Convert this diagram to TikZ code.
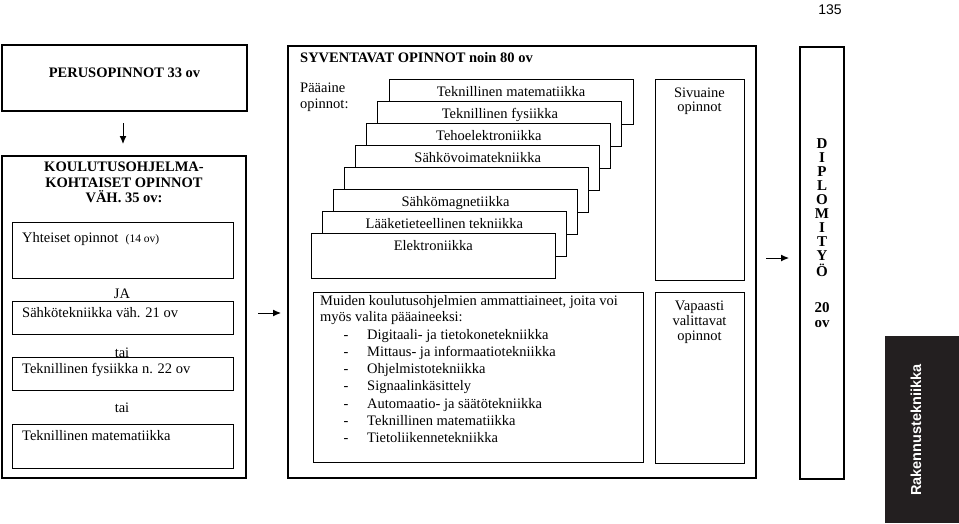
\documentclass[tikz,border=0pt]{standalone}
\usepackage{fontspec}
\setmainfont{Liberation Serif}
\setsansfont{Liberation Sans}
\usetikzlibrary{arrows.meta,calc}
\begin{document}
\begin{tikzpicture}[x=1pt,y=-1pt,
  box/.style={draw=black, line width=1pt, fill=white, anchor=north west, inner sep=0pt, outer sep=0pt},
  bigbox/.style={box, line width=1.2pt},
  txt/.style={font=\fontsize{14.5}{15}\selectfont, inner sep=0pt},
  btxt/.style={font=\fontsize{14.5}{15.5}\bfseries\selectfont, inner sep=0pt, align=center},
  dtxt/.style={font=\fontsize{15}{15}\bfseries\selectfont, inner sep=0pt, anchor=base},
  arr/.style={line width=1pt, -{Latex[length=8pt,width=7pt]}}]
\useasboundingbox (0,0) rectangle (959,523);

% page number
\node[font=\fontsize{14}{14}\sffamily\selectfont, inner sep=0pt, anchor=base] (page) at (830,14) {135};

% ---------------- left column ----------------
\node[bigbox, minimum width=245pt, minimum height=66pt] (perus) at (2,45) {};
\node[btxt, anchor=base] (perust) at (124.5,77) {PERUSOPINNOT 33 ov};

\node[bigbox, minimum width=244pt, minimum height=322pt] (koul) at (2,156) {};
\node[btxt, anchor=base] (koult1) at (124,171) {KOULUTUSOHJELMA-};
\node[btxt, anchor=base] (koult2) at (124,187) {KOHTAISET OPINNOT};
\node[btxt, anchor=base] (koult3) at (124,202) {VÄH. 35 ov:};

\node[box, minimum width=221pt, minimum height=56pt] (yht) at (12,222) {};
\node[txt, anchor=base west] (yhtt) at (22,242) {Yhteiset opinnot\ \ {\fontsize{11.5}{12}\selectfont(14 ov)}};

\node[txt, anchor=base] (ja) at (122,298) {JA};
\node[box, minimum width=221pt, minimum height=33pt] (sahko) at (12,301) {};
\node[txt, anchor=base west] (sahkot) at (22,317) {Sähkötekniikka väh. 21 ov};

\node[txt, anchor=base] (tai1) at (122,357) {tai};
\node[box, minimum width=221pt, minimum height=33pt] (fys) at (12,357) {};
\node[txt, anchor=base west] (fyst) at (22,373) {Teknillinen fysiikka n. 22 ov};

\node[txt, anchor=base] (tai2) at (122,412) {tai};
\node[box, minimum width=221pt, minimum height=44pt] (mat) at (12,424) {};
\node[txt, anchor=base west] (matt) at (22,440) {Teknillinen matematiikka};

% ---------------- middle ----------------
\node[bigbox, minimum width=468pt, minimum height=432pt] (syv) at (288,46) {};
\node[btxt, anchor=base west] (syvt) at (300,62) {SYVENTAVAT OPINNOT noin 80 ov};
\node[txt, anchor=base west] (paa1) at (300,92) {Pääaine};
\node[txt, anchor=base west] (paa2) at (300,108) {opinnot:};

\foreach \i/\t in {1/Teknillinen matematiikka, 2/Teknillinen fysiikka, 3/Tehoelektroniikka, 4/Sähkövoimatekniikka, 5/{}, 6/Sähkömagnetiikka, 7/Lääketieteellinen tekniikka, 8/Elektroniikka} {
  \node[box, minimum width=244pt, minimum height=45pt] (s\i) at ({389-11.1*(\i-1)}, {79+22.14*(\i-1)}) {};
  \node[txt, anchor=base] (st\i) at ($(s\i.north)+(0,17)$) {\t};
}

\node[box, minimum width=89pt, minimum height=201pt] (siv) at (655,79) {};
\node[txt, anchor=base] (sivt1) at (699.5,97) {Sivuaine};
\node[txt, anchor=base] (sivt2) at (699.5,111) {opinnot};

\node[box, minimum width=330pt, minimum height=170pt] (muid) at (313,292) {};
\node[txt, anchor=base west] (muidt1) at (320,305) {Muiden koulutusohjelmien ammattiaineet, joita voi};
\node[txt, anchor=base west] (muidt2) at (320,321) {myös valita pääaineeksi:};
\foreach \i/\t in {0/Digitaali- ja tietokonetekniikka, 1/Mittaus- ja informaatiotekniikka, 2/Ohjelmistotekniikka, 3/Signaalinkäsittely, 4/Automaatio- ja säätötekniikka, 5/Teknillinen matematiikka, 6/Tietoliikennetekniikka} {
  \node[txt, anchor=base] (md\i) at ({346}, {339+17.33*\i}) {-};
  \node[txt, anchor=base west] (ml\i) at ({367}, {339+17.33*\i}) {\t};
}

\node[box, minimum width=89pt, minimum height=171pt] (vap) at (655,292) {};
\node[txt, anchor=base] (vapt1) at (699.5,310) {Vapaasti};
\node[txt, anchor=base] (vapt2) at (699.5,325) {valittavat};
\node[txt, anchor=base] (vapt3) at (699.5,340) {opinnot};

% ---------------- right ----------------
\node[bigbox, minimum width=44pt, minimum height=432pt] (dip) at (800,47) {};
\foreach \i/\t in {0/D,1/I,2/P,3/L,4/O,5/M,6/I,7/T,8/Y} {
  \node[dtxt] (dl\i) at (822, {148+14*\i}) {\t};
}
\node[dtxt] (dl9) at (822,276) {Ö};
\node[dtxt] (d20) at (822,312) {20};
\node[dtxt] (dov) at (822,327) {ov};

% black tab
\node[fill={rgb,255:red,35;green,31;blue,32}, draw=none, anchor=north west, inner sep=0pt, minimum width=74pt, minimum height=187pt] (tab) at (885,336) {};
\node[text=white, font=\fontsize{14.5}{15}\sffamily\bfseries\selectfont, rotate=90, inner sep=0pt] (tabt) at (916,430) {Rakennustekniikka};

% ---------------- arrows ----------------
\draw[arr, shorten <=12pt, shorten >=12pt] (perus.south -| 123,0) -- (koul.north -| 123,0);
\coordinate (a2s) at (258,313);
\draw[arr, shorten >=7pt] (a2s) -- (a2s -| syv.west);
\coordinate (a3s) at (766,258);
\draw[arr, shorten >=11pt] (a3s) -- (a3s -| dip.west);
\end{tikzpicture}
\end{document}
